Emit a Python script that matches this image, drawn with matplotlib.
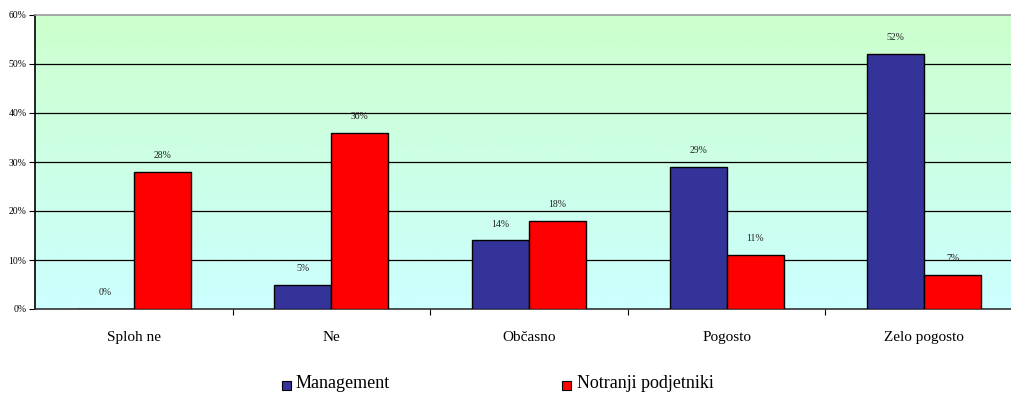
import matplotlib
matplotlib.use("Agg")
import matplotlib.pyplot as plt
import numpy as np
from matplotlib.patches import Rectangle

categories = ["Sploh ne", "Ne", "Občasno", "Pogosto", "Zelo pogosto"]
management = [0, 5, 14, 29, 52]
notranji = [28, 36, 18, 11, 7]
series_names = ["Management", "Notranji podjetniki"]
yticks = [0, 10, 20, 30, 40, 50, 60]

plt.rcParams["font.family"] = ["Liberation Serif", "DejaVu Serif"]

W, H = 1012, 393
fig = plt.figure(figsize=(W / 100, H / 100), dpi=100)
left_px, right_px, top_px, bottom_px = 35, 1012, 15, 309
ax = fig.add_axes([left_px / W, 1 - bottom_px / H,
                   (right_px - left_px) / W, (bottom_px - top_px) / H])

group_px = 197.6
x_right = (right_px - left_px) / group_px - 0.5

# vertical green-to-cyan background gradient
grad = np.linspace(0, 1, 256).reshape(-1, 1)
top_col = np.array([0xcc, 0xff, 0xcc]) / 255
bot_col = np.array([0xcc, 0xff, 0xff]) / 255
img = bot_col * (1 - grad[..., None]) + top_col * grad[..., None]
ax.imshow(img, extent=[-0.5, x_right, 0, 60], origin="lower", aspect="auto", zorder=0)

x = np.arange(len(categories))
bw = 57 / group_px
ax.bar(x - bw / 2, management, bw, color="#333399", edgecolor="black", linewidth=1.0, zorder=3)
ax.bar(x + bw / 2, notranji, bw, color="#ff0000", edgecolor="black", linewidth=1.0, zorder=3)

for xi, v in zip(x - bw / 2, management):
    ax.text(xi, v + 2.4, f"{v}%", ha="center", va="bottom", fontsize=7, color="#222222")
for xi, v in zip(x + bw / 2, notranji):
    ax.text(xi, v + 2.4, f"{v}%", ha="center", va="bottom", fontsize=7, color="#222222")

ax.set_yticks(yticks)
ax.set_yticklabels([f"{t}%" for t in yticks], fontsize=7)
for t in yticks[1:-1]:
    ax.axhline(t, color="black", linewidth=0.9, zorder=1)

ax.set_xticks(x)
ax.set_xticklabels(categories, fontsize=11)
ax.tick_params(axis="x", length=0, pad=16)
ax.set_xticks(np.arange(len(categories) - 1) + 0.5, minor=True)
ax.tick_params(axis="x", which="minor", length=4, width=0.8, color="black")
ax.tick_params(axis="y", length=4, width=0.8, pad=2)

ax.set_xlim(-0.5, x_right)
ax.set_ylim(0, 60)

ax.spines["right"].set_visible(False)
ax.spines["top"].set_color("#999999")
ax.spines["top"].set_linewidth(1.2)
ax.spines["left"].set_linewidth(1.2)
ax.spines["bottom"].set_linewidth(1.2)
ax.spines["bottom"].set_color("#333333")

# legend
fig.patches.append(Rectangle((282 / W, 1 - 390 / H), 9 / W, 9 / H, transform=fig.transFigure,
                             facecolor="#333399", edgecolor="black", linewidth=0.8))
fig.text(296 / W, 1 - 384 / H, series_names[0], fontsize=13, va="center", ha="left")
fig.patches.append(Rectangle((562 / W, 1 - 390 / H), 9 / W, 9 / H, transform=fig.transFigure,
                             facecolor="#ff0000", edgecolor="black", linewidth=0.8))
fig.text(577 / W, 1 - 384 / H, series_names[1], fontsize=13, va="center", ha="left")

fig.savefig("out.png", dpi=100, facecolor="white")
